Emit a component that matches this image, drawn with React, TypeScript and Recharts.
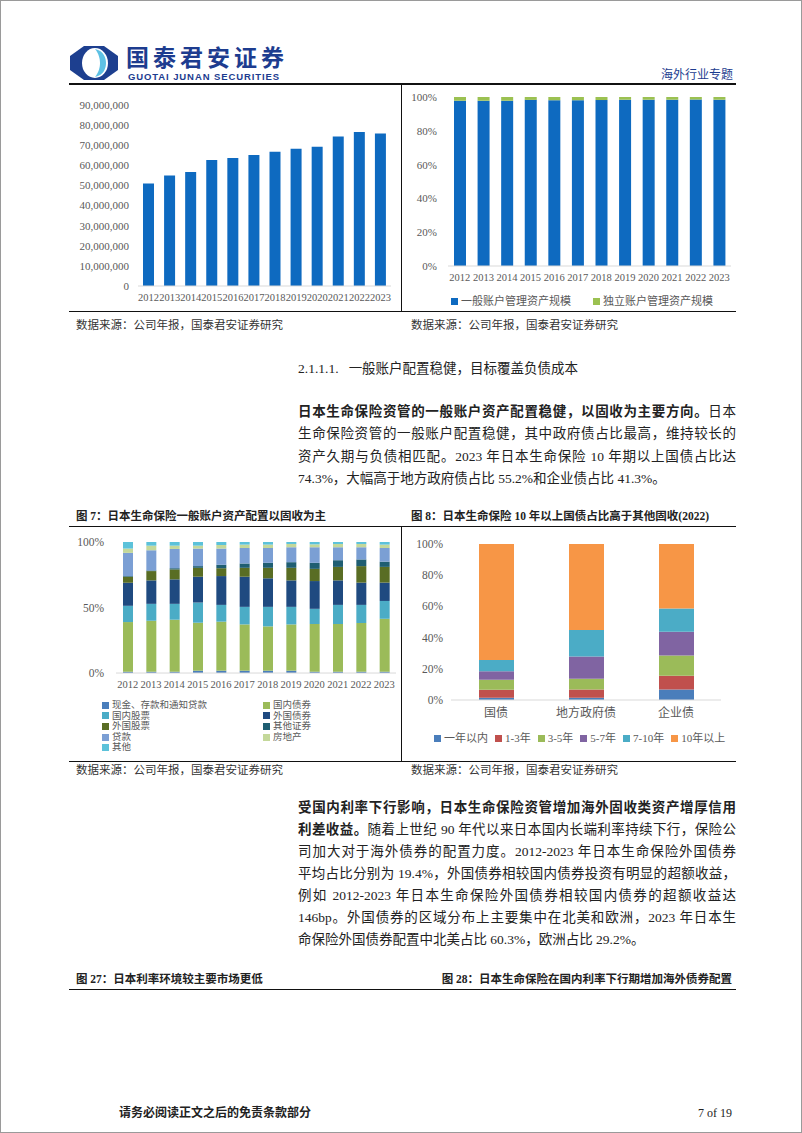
import React from "react";
import { Bar, BarChart, Legend, XAxis, YAxis } from "recharts";

const SERIF = "'Liberation Serif', 'Noto Sans CJK SC', serif";
const CJK = "'Noto Sans CJK SC', 'Liberation Sans', sans-serif";

// ---- 左上: 一般账户管理资产规模 ----
const years = ["2012", "2013", "2014", "2015", "2016", "2017", "2018", "2019", "2020", "2021", "2022", "2023"];
const totalAssets = [51000000, 55000000, 56700000, 62700000, 63700000, 65200000, 66700000, 68200000, 69200000, 74300000, 76600000, 75800000];
const assetTicks = [0, 10000000, 20000000, 30000000, 40000000, 50000000, 60000000, 70000000, 80000000, 90000000];

// ---- 右上: 一般账户 / 独立账户 占比 ----
const accountNames = ["一般账户管理资产规模", "独立账户管理资产规模"];
const generalShare = [97.8, 97.8, 97.8, 98.3, 98.1, 98.1, 98.2, 98.4, 98.4, 98.4, 98.5, 98.4];
const separateShare = [2.2, 2.2, 2.2, 1.7, 1.9, 1.9, 1.8, 1.6, 1.6, 1.6, 1.5, 1.6];
const tenTicks = [0, 10, 20, 30, 40, 50, 60, 70, 80, 90, 100];

// ---- 图7: 一般账户资产配置 ----
const allocNames = ["现金、存款和通知贷款", "国内债券", "国内股票", "外国债券", "外国股票", "其他证券", "贷款", "房地产", "其他"];
const cashDeposit = [1, 1, 1, 1.8, 1.8, 1.8, 1.8, 1.8, 1, 1, 1, 1];
const domesticBond = [37.9, 38.9, 39.7, 36.6, 37.4, 35.3, 33.8, 35.3, 36.4, 36.4, 37.2, 40.4];
const domesticStock = [12.4, 12.9, 12.1, 15.4, 12.8, 13.4, 14.9, 13.4, 11.6, 14.6, 13.8, 13.6];
const foreignBond = [17.6, 17.9, 18.7, 19.7, 22.0, 23.0, 21.8, 20.2, 21.2, 18.7, 17.0, 14.0];
const foreignStock = [4.6, 7.1, 7.6, 6.8, 6.0, 6.8, 8.0, 9.6, 9.3, 10.3, 12.6, 12.0];
const otherSecurities = [0.5, 0.5, 0.9, 1.3, 2.6, 3.3, 3.8, 4.3, 4.6, 5.1, 5.1, 4.0];
const loans = [17.7, 15.4, 14.7, 13.4, 12.4, 11.8, 11.3, 11.4, 11.9, 9.9, 9.3, 10.4];
const realEstate = [3.3, 3.5, 2.5, 2.2, 2.7, 2.6, 2.6, 2.5, 2.2, 2.5, 2.5, 2.6];
const otherAssets = [5.0, 2.8, 2.8, 2.8, 2.3, 2.0, 2.0, 1.5, 1.8, 1.5, 1.5, 2.0];
const allocTicks = [0, 50, 100];

// ---- 图8: 各类固收期限结构 (2022) ----
const bondTypes = ["国债", "地方政府债", "企业债"];
const maturityNames = ["一年以内", "1-3年", "3-5年", "5-7年", "7-10年", "10年以上"];
const within1y = [1.5, 1.5, 6.8];
const years1to3 = [5.1, 5.3, 8.8];
const years3to5 = [6.4, 6.8, 13.0];
const years5to7 = [5.5, 14.3, 15.1];
const years7to10 = [7.2, 16.9, 15.0];
const over10y = [74.3, 55.2, 41.3];

const allocColors = ["#4a7ebb", "#9bbb59", "#4bacc6", "#1f4a80", "#596d24", "#1f5e72", "#7b9fd4", "#c4d89a", "#5cc2da"];
const maturityColors = ["#4a7ebb", "#c0504d", "#9bbb59", "#8064a2", "#4bacc6", "#f79646"];

const assetData = years.map((year, i) => ({ year, total: totalAssets[i] }));
const shareData = years.map((year, i) => ({ year, general: generalShare[i], separate: separateShare[i] }));
const allocValues = [cashDeposit, domesticBond, domesticStock, foreignBond, foreignStock, otherSecurities, loans, realEstate, otherAssets];
const allocData = years.map((year, i) => {
	const row: Record<string, string | number> = { year };
	allocValues.forEach((vals, k) => (row[`s${k}`] = vals[i]));
	return row;
});
const maturityValues = [within1y, years1to3, years3to5, years5to7, years7to10, over10y];
const maturityData = bondTypes.map((type, i) => {
	const row: Record<string, string | number> = { type };
	maturityValues.forEach((vals, k) => (row[`m${k}`] = vals[i]));
	return row;
});

const tick = { fontSize: 11, fill: "#595959", fontFamily: SERIF };
const pct = (v: number) => `${v}%`;

function SquareLegend({ items, padLeft, gap, cols, colWidth, rowH, size }: any) {
	const style: React.CSSProperties = cols
		? { display: "grid", gridTemplateColumns: `repeat(${cols}, ${colWidth}px)` }
		: { display: "flex", columnGap: gap };
	return (
		<div style={{ ...style, paddingLeft: padLeft, fontFamily: SERIF, fontSize: size, color: "#595959" }}>
			{items.map((it: any) => (
				<div key={it.name} style={{ display: "flex", alignItems: "center", height: rowH, lineHeight: `${rowH}px`, whiteSpace: "nowrap" }}>
					<span style={{ width: 7, height: 7, background: it.color, marginRight: 3, display: "inline-block", flexShrink: 0 }} />
					{it.name}
				</div>
			))}
		</div>
	);
}

function Txt({ x, right, y, size, bold, color, font, children }: any) {
	return (
		<div
			style={{
				position: "absolute",
				left: x,
				right: right !== undefined ? 802 - right : undefined,
				top: y - size * 0.6,
				fontSize: size,
				lineHeight: `${size * 1.2}px`,
				fontWeight: bold ? 700 : 400,
				color: color || "#222",
				fontFamily: font || SERIF,
				whiteSpace: "nowrap",
			}}>
			{children}
		</div>
	);
}

function Para({ x, y, step, lines }: { x: number; y: number; step: number; lines: React.ReactNode[] }) {
	return (
		<>
			{lines.map((ln, i) => (
				<div
					key={i}
					style={{
						position: "absolute",
						left: x,
						top: y + i * step - 10,
						width: 438,
						fontSize: 13.5,
						lineHeight: "20px",
						textAlign: "justify",
						textAlignLast: i === lines.length - 1 ? "left" : "justify",
						color: "#222",
					}}>
					{ln}
				</div>
			))}
		</>
	);
}

const HLine = ({ y, w = 1.5 }: { y: number; w?: number }) => (
	<div style={{ position: "absolute", left: 68, width: 667, top: y, borderTop: `${w}px solid #111` }} />
);
const VLine = ({ y1, y2 }: { y1: number; y2: number }) => (
	<div style={{ position: "absolute", left: 400, top: y1, height: y2 - y1, borderLeft: "1.5px solid #111" }} />
);

function Logo() {
	return (
		<svg width={48} height={34} style={{ position: "absolute", left: 69, top: 45 }}>
			<polygon points="14,0 34,0 48,10 48,24 34,34 14,34 0,24 0,10" fill="#1d3f8f" />
			<ellipse cx={25} cy={17} rx={13} ry={15} fill="#fff" />
			<path d="M25,3 C34,5 36,12 36,17 C36,22 34,29 25,31 C29,26 30,21 30,17 C30,13 29,8 25,3 Z" fill="#5ec1e4" />
		</svg>
	);
}

export default function App() {
	return (
		<div
			style={{
				position: "absolute",
				left: 0,
				top: 0,
				width: 802,
				height: 1133,
				boxSizing: "border-box",
				border: "1px solid #9a9a9a",
				background: "#fff",
				fontFamily: SERIF,
				overflow: "hidden",
			}}>
			<Logo />
			<Txt x={125} y={56} size={23} bold color="#1d3c8f" font={CJK}>
				<span style={{ letterSpacing: 4 }}>国泰君安证券</span>
			</Txt>
			<Txt x={127} y={76} size={9.5} bold color="#1d3c8f" font="'Liberation Sans', sans-serif">
				<span style={{ letterSpacing: 0.9 }}>GUOTAI JUNAN SECURITIES</span>
			</Txt>
			<Txt right={734} y={73} size={12} color="#1d3c8f" font={CJK}>
				海外行业专题
			</Txt>
			<HLine y={82} w={2} />

			{/* 上方两图 */}
			<VLine y1={84} y2={310} />
			<div style={{ position: "absolute", left: 68, top: 86 }}>
				<BarChart width={330} height={224} data={assetData} margin={{ top: 18, right: 8, left: 0, bottom: 5 }}>
					<XAxis dataKey="year" interval={0} tickLine={false} axisLine={{ stroke: "#d9d9d9" }} tick={{ ...tick, fontSize: 10.5 }} height={20} />
					<YAxis
						domain={[0, 90000000]}
						ticks={assetTicks}
						width={69}
						axisLine={false}
						tickLine={false}
						tickMargin={3}
						tick={tick}
						tickFormatter={(v: number) => v.toLocaleString("en-US")}
					/>
					<Bar dataKey="total" fill="#0e6ac0" barSize={11} isAnimationActive={false} />
				</BarChart>
			</div>
			<div style={{ position: "absolute", left: 404, top: 86 }}>
				<BarChart width={330} height={222} data={shareData} margin={{ top: 10, right: 4, left: 0, bottom: 0 }}>
					<XAxis dataKey="year" interval={0} tickLine={false} axisLine={{ stroke: "#d9d9d9" }} tick={{ ...tick, fontSize: 10.5 }} height={27} />
					<YAxis domain={[0, 100]} ticks={tenTicks} width={43} axisLine={false} tickLine={false} tickMargin={5} tick={tick} tickFormatter={pct} />
					<Legend
						verticalAlign="bottom"
						content={() => (
							<SquareLegend
								items={accountNames.map((name, i) => ({ name, color: ["#0e6ac0", "#9bc151"][i] }))}
								padLeft={46}
								gap={22}
								rowH={16}
								size={11}
							/>
						)}
					/>
					<Bar dataKey="general" name={accountNames[0]} stackId="a" fill="#0e6ac0" barSize={12} isAnimationActive={false} />
					<Bar dataKey="separate" name={accountNames[1]} stackId="a" fill="#9bc151" barSize={12} isAnimationActive={false} />
				</BarChart>
			</div>
			<HLine y={310} />
			<Txt x={75} y={325} size={11.5} color="#333">
				数据来源：公司年报，国泰君安证券研究
			</Txt>
			<Txt x={410} y={325} size={11.5} color="#333">
				数据来源：公司年报，国泰君安证券研究
			</Txt>

			<Txt x={297} y={368} size={13.5}>
				2.1.1.1.&nbsp;&nbsp;&nbsp;一般账户配置稳健，目标覆盖负债成本
			</Txt>
			<Para
				x={297}
				y={411}
				step={22.3}
				lines={[
					<>
						<b>日本生命保险资管的一般账户资产配置稳健，以固收为主要方向。</b>日本
					</>,
					"生命保险资管的一般账户配置稳健，其中政府债占比最高，维持较长的",
					"资产久期与负债相匹配。2023 年日本生命保险 10 年期以上国债占比达",
					"74.3%，大幅高于地方政府债占比 55.2%和企业债占比 41.3%。",
				]}
			/>

			<Txt x={75} y={516} size={11.5} bold>
				图 7：日本生命保险一般账户资产配置以固收为主
			</Txt>
			<Txt x={410} y={516} size={11.5} bold>
				图 8：日本生命保险 10 年以上国债占比高于其他固收(2022)
			</Txt>
			<HLine y={525} />
			<VLine y1={526} y2={760} />

			{/* 图7 */}
			<div style={{ position: "absolute", left: 68, top: 527 }}>
				<BarChart width={332} height={233} data={allocData} margin={{ top: 14, right: 5, left: 0, bottom: 8 }}>
					<XAxis dataKey="year" interval={0} tickLine={false} axisLine={{ stroke: "#d9d9d9" }} tick={{ ...tick, fontSize: 10.5 }} height={27} />
					<YAxis domain={[0, 100]} ticks={allocTicks} width={47} axisLine={false} tickLine={false} tickMargin={6} tick={{ ...tick, fontSize: 11.5 }} tickFormatter={pct} />
					<Legend
						verticalAlign="bottom"
						content={() => (
							<SquareLegend
								items={allocNames.map((name, i) => ({ name, color: allocColors[i] }))}
								padLeft={33}
								cols={2}
								colWidth={161}
								rowH={10.6}
								size={9.5}
							/>
						)}
					/>
					{allocNames.map((name, k) => (
						<Bar key={name} dataKey={`s${k}`} name={name} stackId="a" fill={allocColors[k]} barSize={10} isAnimationActive={false} />
					))}
				</BarChart>
			</div>

			{/* 图8 */}
			<div style={{ position: "absolute", left: 404, top: 527 }}>
				<BarChart width={331} height={233} data={maturityData} margin={{ top: 16, right: 15, left: 0, bottom: 15 }}>
					<XAxis dataKey="type" interval={0} tickLine={false} axisLine={{ stroke: "#d9d9d9" }} tick={{ ...tick, fontSize: 12, fontFamily: CJK }} height={30} />
					<YAxis domain={[0, 100]} ticks={tenTicks} width={46} axisLine={false} tickLine={false} tick={{ ...tick, fontSize: 11.5 }} tickFormatter={pct} />
					<Legend
						verticalAlign="bottom"
						content={() => (
							<SquareLegend
								items={maturityNames.map((name, i) => ({ name, color: maturityColors[i] }))}
								padLeft={29}
								gap={7}
								rowH={16}
								size={11}
							/>
						)}
					/>
					{maturityNames.map((name, k) => (
						<Bar key={name} dataKey={`m${k}`} name={name} stackId="a" fill={maturityColors[k]} barSize={35} isAnimationActive={false} />
					))}
				</BarChart>
			</div>
			<HLine y={760} />
			<Txt x={75} y={770} size={11.5} color="#333">
				数据来源：公司年报，国泰君安证券研究
			</Txt>
			<Txt x={410} y={770} size={11.5} color="#333">
				数据来源：公司年报，国泰君安证券研究
			</Txt>

			<Para
				x={297}
				y={807}
				step={22}
				lines={[
					<b>受国内利率下行影响，日本生命保险资管增加海外固收类资产增厚信用</b>,
					<>
						<b>利差收益。</b>随着上世纪 90 年代以来日本国内长端利率持续下行，保险公
					</>,
					"司加大对于海外债券的配置力度。2012-2023 年日本生命保险外国债券",
					"平均占比分别为 19.4%，外国债券相较国内债券投资有明显的超额收益，",
					"例如 2012-2023 年日本生命保险外国债券相较国内债券的超额收益达",
					"146bp。外国债券的区域分布上主要集中在北美和欧洲，2023 年日本生",
					"命保险外国债券配置中北美占比 60.3%，欧洲占比 29.2%。",
				]}
			/>

			<Txt x={75} y={979} size={11.5} bold>
				图 27：日本利率环境较主要市场更低
			</Txt>
			<Txt right={733} y={979} size={11.5} bold>
				图 28：日本生命保险在国内利率下行期增加海外债券配置
			</Txt>
			<HLine y={988} />

			<Txt x={118} y={1112} size={12} bold>
				请务必阅读正文之后的免责条款部分
			</Txt>
			<Txt right={733} y={1112} size={12}>
				7 of 19
			</Txt>
		</div>
	);
}
